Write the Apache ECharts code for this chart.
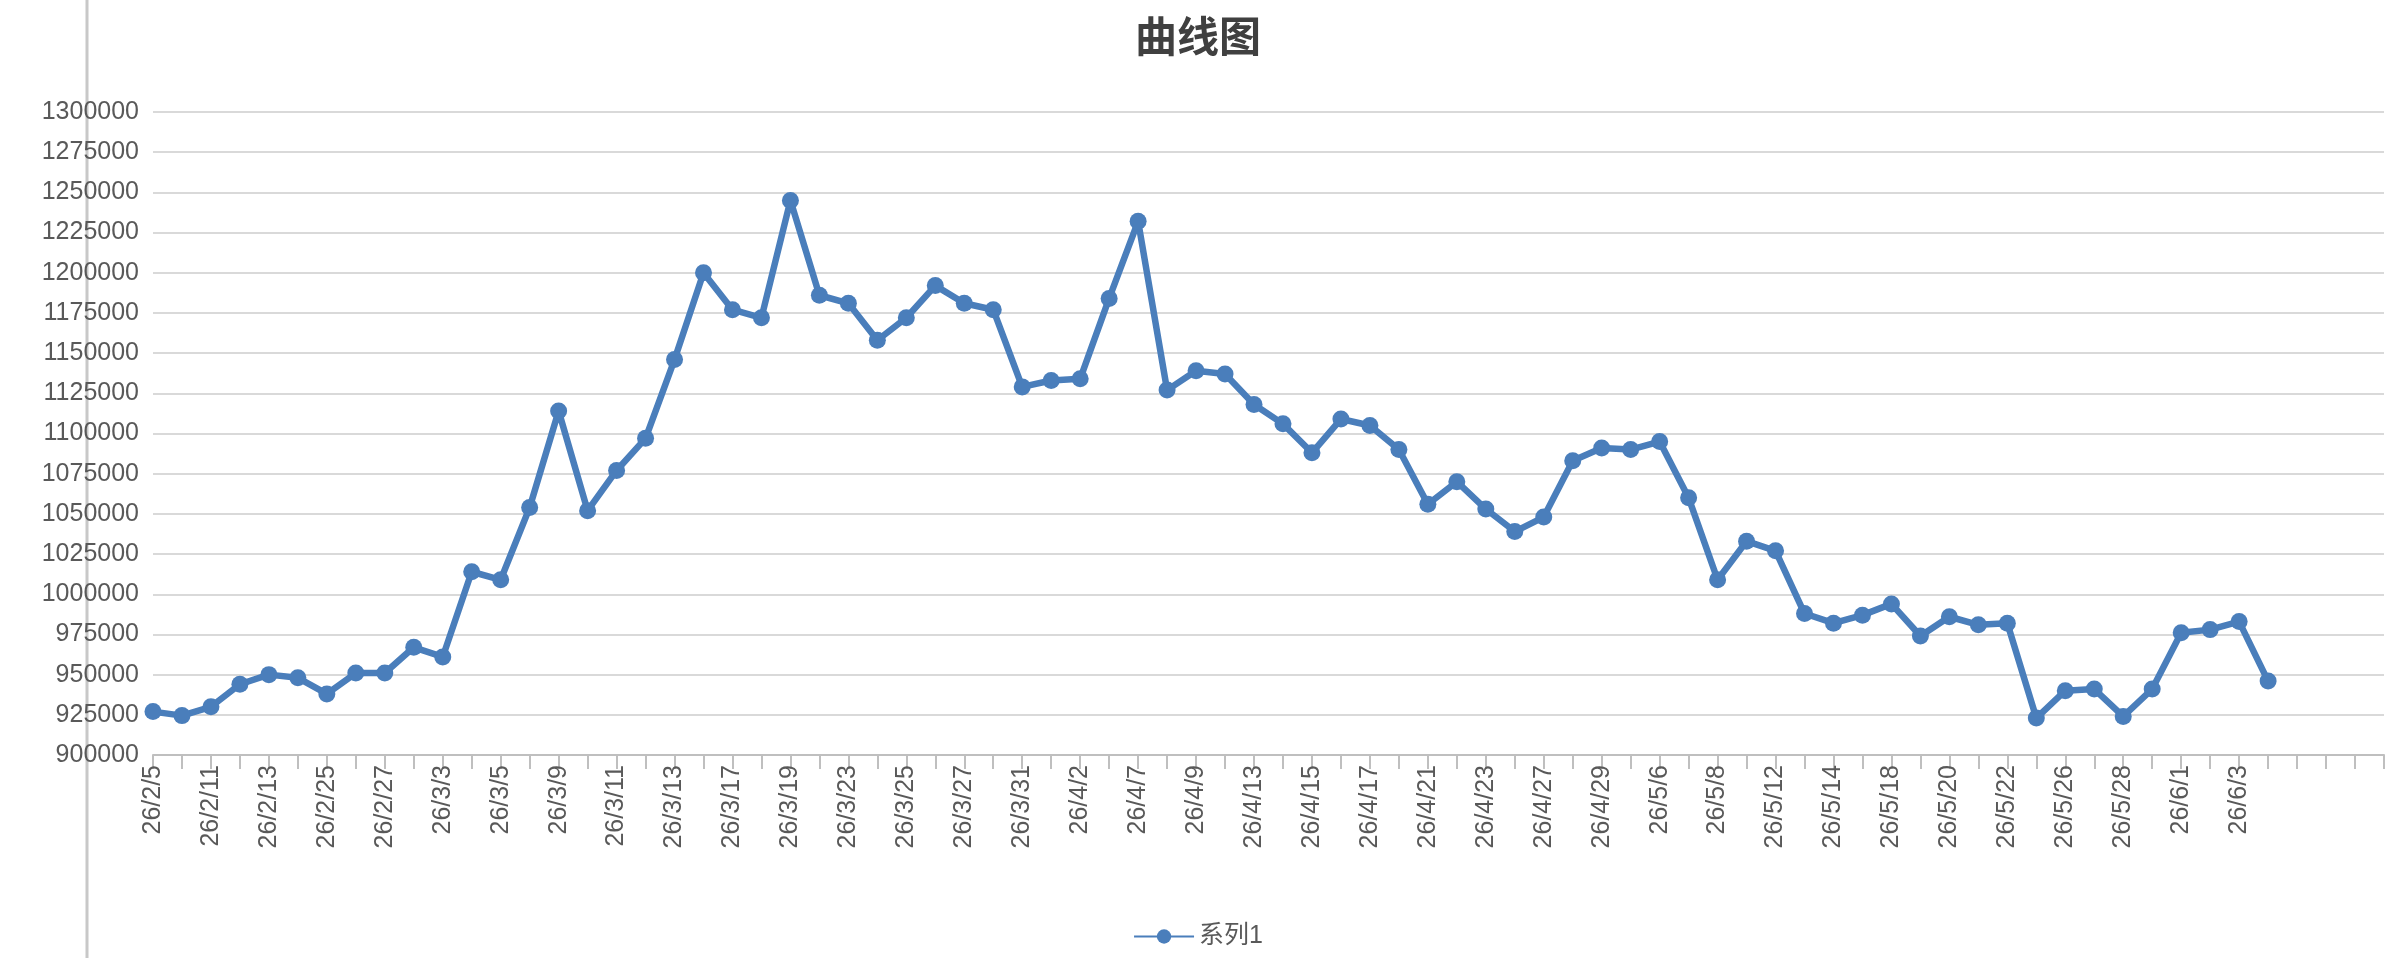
<!DOCTYPE html>
<html><head><meta charset="utf-8">
<script src="https://cdn.jsdelivr.net/npm/echarts@6/dist/echarts.min.js"></script>
<style>html,body{margin:0;padding:0;background:#fff}#c{width:2396px;height:958px}</style>
</head><body><div id="c"></div>
<script>
const categories = ["26/2/5","26/2/10","26/2/11","26/2/12","26/2/13","26/2/24","26/2/25","26/2/26","26/2/27","26/3/2","26/3/3","26/3/4","26/3/5","26/3/6","26/3/9","26/3/10","26/3/11","26/3/12","26/3/13","26/3/16","26/3/17","26/3/18","26/3/19","26/3/20","26/3/23","26/3/24","26/3/25","26/3/26","26/3/27","26/3/30","26/3/31","26/4/1","26/4/2","26/4/3","26/4/7","26/4/8","26/4/9","26/4/10","26/4/13","26/4/14","26/4/15","26/4/16","26/4/17","26/4/20","26/4/21","26/4/22","26/4/23","26/4/24","26/4/27","26/4/28","26/4/29","26/4/30","26/5/6","26/5/7","26/5/8","26/5/11","26/5/12","26/5/13","26/5/14","26/5/15","26/5/18","26/5/19","26/5/20","26/5/21","26/5/22","26/5/25","26/5/26","26/5/27","26/5/28","26/5/29","26/6/1","26/6/2","26/6/3","26/6/4","","","",""];
const series1 = [927000,924500,930000,944000,950000,948000,938000,951000,951000,967000,961000,1014000,1009000,1054000,1114000,1052000,1077000,1097000,1146000,1200000,1177000,1172000,1245000,1186000,1181000,1158000,1172000,1192000,1181000,1177000,1129000,1133000,1134000,1184000,1232000,1127000,1139000,1137000,1118000,1106000,1088000,1109000,1105000,1090000,1056000,1070000,1053000,1039000,1048000,1083000,1091000,1090000,1095000,1060000,1009000,1033000,1027000,988000,982000,987000,994000,974000,986000,981000,982000,923000,940000,941000,924000,941000,976000,978000,983000,946000];
const seriesName = "系列1";
const chart = echarts.init(document.getElementById('c'));
const ff = '"Liberation Sans","Noto Sans CJK SC",sans-serif';
chart.setOption({
  title:{text:'曲线图',left:'center',top:10,textStyle:{fontSize:42,fontWeight:'bold',color:'#404040',fontFamily:'"Noto Sans CJK SC",sans-serif'}},
  graphic:[{type:'line',shape:{x1:87,y1:0,x2:87,y2:958},style:{stroke:'#c8c8c8',lineWidth:3}}],
  grid:{left:153,right:12,top:112,bottom:203,containLabel:false},
  legend:{bottom:4,left:'center',itemWidth:60,itemHeight:18,textStyle:{fontSize:25,color:'#595959',fontFamily:ff}},
  xAxis:{type:'category',data:categories,boundaryGap:false,
    axisLine:{lineStyle:{color:'#bfbfbf',width:2}},
    axisTick:{interval:0,length:14,lineStyle:{color:'#bfbfbf',width:2}},
    axisLabel:{interval:1,rotate:90,fontSize:25,color:'#595959',fontFamily:ff,margin:10}},
  yAxis:{type:'value',min:900000,max:1300000,interval:25000,
    axisLine:{show:false},axisTick:{show:false},
    splitLine:{lineStyle:{color:'#d9d9d9',width:2}},
    axisLabel:{fontSize:25,color:'#595959',fontFamily:ff,margin:14,formatter:v=>String(v)}},
  series:[{name:seriesName,type:'line',data:series1,symbol:'circle',symbolSize:17,
    lineStyle:{color:'#4a7ebb',width:6.5},itemStyle:{color:'#4a7ebb'}}]
});
</script></body></html>
